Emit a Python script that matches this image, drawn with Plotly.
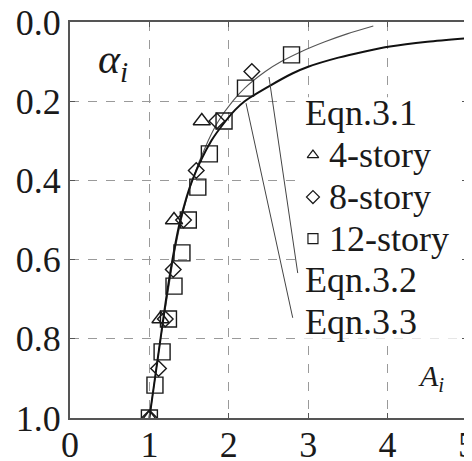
import plotly.graph_objects as go

# ---- data ----
tri_A = [1.0, 1.14, 1.31, 1.66]
tri_alpha = [1.0, 0.75, 0.5, 0.25]

dia_A = [1.0, 1.115, 1.2, 1.30, 1.43, 1.59, 1.85, 2.29]
dia_alpha = [1.0, 0.875, 0.75, 0.625, 0.5, 0.375, 0.25, 0.125]

sq_A = [1.0, 1.07, 1.16, 1.24, 1.31, 1.41, 1.49, 1.61, 1.755, 1.94, 2.21, 2.79]
sq_alpha = [1.0, 0.917, 0.833, 0.75, 0.667, 0.583, 0.5, 0.417, 0.333, 0.25, 0.167, 0.083]

eq32_alpha = [1.0, 0.9, 0.8, 0.7, 0.6, 0.5, 0.4, 0.3, 0.25, 0.2, 0.167, 0.125, 0.1, 0.075, 0.05, 0.03, 0.01]
eq32_A = [1.0, 1.07, 1.14, 1.22, 1.30, 1.40, 1.54, 1.74, 1.87, 2.05, 2.2, 2.46, 2.66, 2.91, 3.21, 3.49, 3.82]

eq33_alpha = [1.0, 0.9, 0.8, 0.7, 0.6, 0.5, 0.4, 0.3, 0.25, 0.222, 0.2, 0.163, 0.13, 0.113, 0.09, 0.075, 0.062, 0.05, 0.041]
eq33_A = [1.0, 1.07, 1.14, 1.21, 1.29, 1.39, 1.54, 1.78, 1.96, 2.08, 2.2, 2.5, 2.8, 3.0, 3.38, 3.7, 4.03, 4.5, 5.0]

x_ticks = [0, 1, 2, 3, 4, 5]
y_ticks = [0.0, 0.2, 0.4, 0.6, 0.8, 1.0]

legend_rows = ["Eqn.3.1", "4-story", "8-story", "12-story", "Eqn.3.2", "Eqn.3.3"]
legend_row_alpha = [0.23, 0.336, 0.442, 0.547, 0.652, 0.758]
legend_symbols = [None, "triangle-up-open", "diamond-open", "square-open", None, None]

# leader lines: (curve end A, alpha) -> (label end A, alpha)
leader_32 = [(2.506, 0.139), (2.868, 0.634)]
leader_33 = [(2.217, 0.205), (2.805, 0.747)]

FONT = "Liberation Serif"
INK = "#1a1a1a"

fig = go.Figure()

fig.add_trace(go.Scatter(x=eq32_A, y=eq32_alpha, mode="lines",
                         line=dict(color="#555555", width=1.1, shape="spline", smoothing=0.8),
                         showlegend=False, hoverinfo="skip"))
fig.add_trace(go.Scatter(x=eq33_A, y=eq33_alpha, mode="lines",
                         line=dict(color="#111111", width=2, shape="spline", smoothing=0.8),
                         showlegend=False, hoverinfo="skip"))

mk_line = dict(color=INK, width=1.4)
fig.add_trace(go.Scatter(x=tri_A, y=tri_alpha, mode="markers",
                         marker=dict(symbol="triangle-up-open", size=15, color=INK, line=mk_line),
                         showlegend=False))
fig.add_trace(go.Scatter(x=dia_A, y=dia_alpha, mode="markers",
                         marker=dict(symbol="diamond-open", size=12, color=INK, line=mk_line),
                         showlegend=False))
fig.add_trace(go.Scatter(x=sq_A, y=sq_alpha, mode="markers",
                         marker=dict(symbol="square-open", size=16, color=INK, line=mk_line),
                         showlegend=False))

# legend: white box, symbols, texts
shapes = [dict(type="rect", xref="x", yref="y", x0=2.94, x1=5.0, y0=0.19, y1=0.80,
               fillcolor="white", line=dict(width=0), layer="between")]
for seg in (leader_32, leader_33):
    shapes.append(dict(type="line", xref="x", yref="y",
                       x0=seg[0][0], y0=seg[0][1], x1=seg[1][0], y1=seg[1][1],
                       line=dict(color="#444444", width=1)))

lx, ly, ls = [], [], []
for r, a, s in zip(legend_rows, legend_row_alpha, legend_symbols):
    if s:
        lx.append(3.06); ly.append(a); ls.append(s)
fig.add_trace(go.Scatter(x=lx, y=ly, mode="markers",
                         marker=dict(symbol=ls, size=10, color=INK, line=dict(color=INK, width=1.2)),
                         showlegend=False))

annotations = []
for r, a, s in zip(legend_rows, legend_row_alpha, legend_symbols):
    annotations.append(dict(x=3.24 if s else 2.93, y=a, xref="x", yref="y", text=r,
                            showarrow=False, xanchor="left", yanchor="middle",
                            font=dict(family=FONT, size=36, color=INK)))
annotations.append(dict(x=0.33, y=0.1, xref="x", yref="y", text="<i>α<sub>i</sub></i>",
                        showarrow=False, xanchor="left", yanchor="middle",
                        font=dict(family=FONT, size=42, color=INK)))
annotations.append(dict(x=4.36, y=0.9, xref="x", yref="y", text="<i>A<sub>i</sub></i>",
                        showarrow=False, xanchor="left", yanchor="middle",
                        font=dict(family=FONT, size=30, color=INK)))

axis_common = dict(showline=True, linecolor="#555555", linewidth=2, mirror="ticks",
                   ticks="inside", ticklen=5, tickcolor="#555555", tickwidth=1,
                   showgrid=True, gridcolor="#9a9a9a", gridwidth=1, griddash="dash",
                   zeroline=False, automargin=False, ticklabeloverflow="allow",
                   tickfont=dict(family=FONT, size=36, color=INK))

# the page body adds an 8px offset, so the figure is sized to end at the window edge
fig.update_layout(
    width=464, height=453,
    margin=dict(l=62, r=5, t=14, b=43),
    paper_bgcolor="white", plot_bgcolor="white",
    xaxis=dict(range=[0, 5], tickvals=x_ticks, ticktext=[str(v) for v in x_ticks],
               ticklabelstandoff=-6, **axis_common),
    yaxis=dict(range=[1.0, 0.0], tickvals=y_ticks, ticktext=[f"{v:.1f}" for v in y_ticks], **axis_common),
    shapes=shapes, annotations=annotations,
)

fig.write_html("out.html")
